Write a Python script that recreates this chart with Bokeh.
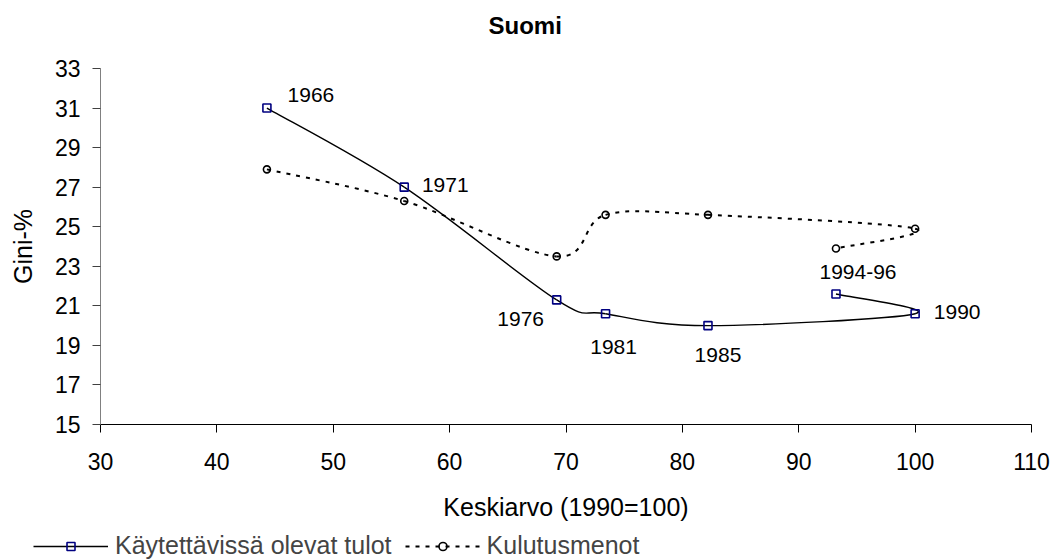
from bokeh.plotting import figure
from bokeh.layouts import column, row
from bokeh.models import Legend, LegendItem, ColumnDataSource, FixedTicker
from bokeh.embed import file_html
from bokeh.resources import INLINE
from bokeh.core.properties import value

# ---- data ----
years = ["1966", "1971", "1976", "1981", "1985", "1990", "1994-96"]
keskiarvo = [44.3, 56.1, 69.2, 73.4, 82.2, 100.0, 93.2]
tulot_gini = [31.0, 27.0, 21.3, 20.6, 20.0, 20.6, 21.6]
kulutus_gini = [27.9, 26.3, 23.5, 25.6, 25.6, 24.9, 23.9]
x_ticks = [30, 40, 50, 60, 70, 80, 90, 100, 110]
y_ticks = [15, 17, 19, 21, 23, 25, 27, 29, 31, 33]
series_names = ["Käytettävissä olevat tulot", "Kulutusmenot"]

# label offsets (pixels, layout only)
label_dx = [44, 41, -36, 8, 10, 42, 22]
label_dy = [-13, -2, 19, 33, 29, -2, -22]

FONT = "Liberation Sans"


def smooth_segments(xs, ys):
    """Bezier control points (Catmull-Rom style smoothing, like Excel smoothed lines)."""
    n = len(xs)
    seg = dict(x0=[], y0=[], x1=[], y1=[], cx0=[], cy0=[], cx1=[], cy1=[])
    for i in range(n - 1):
        ip = max(i - 1, 0)
        inn = min(i + 2, n - 1)
        seg["x0"].append(xs[i]); seg["y0"].append(ys[i])
        seg["x1"].append(xs[i + 1]); seg["y1"].append(ys[i + 1])
        seg["cx0"].append(xs[i] + (xs[i + 1] - xs[ip]) / 6.0)
        seg["cy0"].append(ys[i] + (ys[i + 1] - ys[ip]) / 6.0)
        seg["cx1"].append(xs[i + 1] - (xs[inn] - xs[i]) / 6.0)
        seg["cy1"].append(ys[i + 1] - (ys[inn] - ys[i]) / 6.0)
    return ColumnDataSource(seg)


SOLID = dict(line_color="black", line_width=1.4)
DASHED = dict(line_color="black", line_width=2, line_dash="4 6")
SQUARE = dict(marker="square", size=8, line_color="#000080", line_width=1.6, fill_alpha=0)
CIRCLE = dict(marker="circle", size=7, line_color="black", line_width=1.6, fill_alpha=0)

# ---- title strip ----
tf = figure(width=1061, height=52, x_range=(0, 1), y_range=(0, 1),
            x_axis_location=None, y_axis_location=None,
            output_backend="svg", toolbar_location=None, min_border=0)
tf.outline_line_color = None
tf.xgrid.visible = False
tf.ygrid.visible = False
tf.title.text = "Suomi"
tf.title.align = "left"
tf.title.offset = 388
tf.title.text_font = FONT
tf.title.text_font_size = "24px"
tf.title.text_font_style = "bold"
tf.title.text_color = "black"
tf.title.standoff = 18

# ---- main chart ----
p = figure(width=1061, height=480, x_range=(30, 110), y_range=(15, 33), title=None,
           output_backend="svg", toolbar_location=None,
           min_border_left=100, min_border_right=30, min_border_top=16, min_border_bottom=108)

p.outline_line_color = None
p.xgrid.grid_line_color = None
p.ygrid.grid_line_color = None

for ax in (p.xaxis[0], p.yaxis[0]):
    ax.major_label_text_font = FONT
    ax.major_label_text_font_size = "23px"
    ax.major_label_text_color = "black"
    ax.axis_label_text_font = FONT
    ax.axis_label_text_font_size = "25px"
    ax.axis_label_text_font_style = "normal"
    ax.axis_label_text_color = "black"
    ax.minor_tick_line_color = None
    ax.major_tick_in = 0
    ax.major_tick_out = 8
    ax.major_tick_line_color = "black"

p.xaxis.ticker = FixedTicker(ticks=x_ticks)
p.yaxis.ticker = FixedTicker(ticks=y_ticks)
p.xaxis.axis_label = "Keskiarvo (1990=100)"
p.yaxis.axis_label = "Gini-%"
p.xaxis.axis_line_color = "black"
p.yaxis.axis_line_color = "#808080"
p.yaxis.major_tick_line_color = "#404040"
p.xaxis.major_label_standoff = 20
p.yaxis.major_label_standoff = 12
p.xaxis.axis_label_standoff = 20
p.yaxis.axis_label_standoff = 15

src_t = smooth_segments(keskiarvo, tulot_gini)
src_k = smooth_segments(keskiarvo, kulutus_gini)
p.bezier(x0="x0", y0="y0", x1="x1", y1="y1", cx0="cx0", cy0="cy0", cx1="cx1", cy1="cy1",
         source=src_t, **SOLID)
p.bezier(x0="x0", y0="y0", x1="x1", y1="y1", cx0="cx0", cy0="cy0", cx1="cx1", cy1="cy1",
         source=src_k, **DASHED)

pts = ColumnDataSource(dict(x=keskiarvo, t=tulot_gini, k=kulutus_gini, year=years,
                            dx=label_dx, dy=label_dy))
p.scatter("x", "t", source=pts, **SQUARE)
p.scatter("x", "k", source=pts, **CIRCLE)

p.text("x", "t", text="year", source=pts, x_offset="dx", y_offset="dy",
       text_align="center", text_baseline="middle", text_font=value(FONT),
       text_font_size="21px", text_color="black")

# ---- legend strip ----
lg = figure(width=1061, height=28, x_range=(0, 1), y_range=(0, 1),
            x_axis_location=None, y_axis_location=None, title=None,
            output_backend="svg", toolbar_location=None, min_border=0)
lg.outline_line_color = None
lg.xgrid.visible = False
lg.ygrid.visible = False
# same series drawn in the strip (outside its visible range) so the legend can show the glyphs
lt = lg.line(keskiarvo, tulot_gini, **SOLID)
ls = lg.scatter("x", "t", source=pts, **SQUARE)
kt = lg.line(keskiarvo, kulutus_gini, **DASHED)
ks = lg.scatter("x", "k", source=pts, **CIRCLE)
legend = Legend(items=[LegendItem(label=series_names[0], renderers=[lt, ls]),
                       LegendItem(label=series_names[1], renderers=[kt, ks])],
                orientation="horizontal", location=(33, 0),
                glyph_width=75, glyph_height=20, label_height=20,
                label_standoff=7, spacing=13, padding=0, margin=0,
                border_line_color=None, background_fill_alpha=0,
                label_text_font=FONT, label_text_font_size="25px")
lg.add_layout(legend)

open("out.html", "w").write(file_html(column(tf, p, row(lg, spacing=0), spacing=0), INLINE))
